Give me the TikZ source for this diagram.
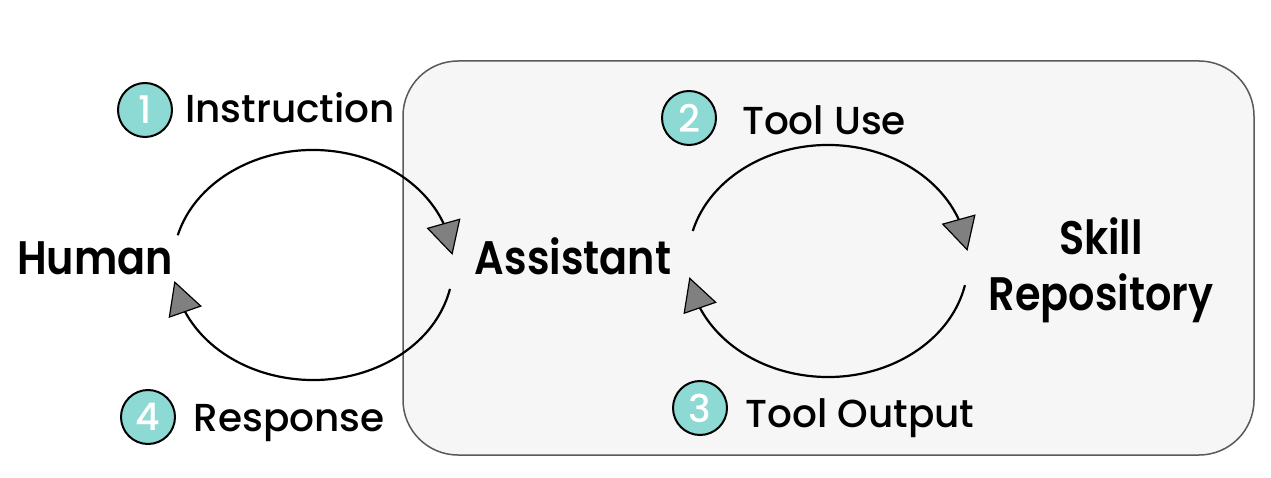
\documentclass[tikz,border=0pt]{standalone}
\usepackage{fontspec}
\setmainfont{Poppins}
\newfontfamily\actorfont{Poppins SemiBold}[FakeStretch=0.88]
\newfontfamily\labelfont{Poppins Medium}
\usetikzlibrary{arrows.meta,bending,calc}
\definecolor{teal}{HTML}{8DD9D3}
\definecolor{panel}{HTML}{F6F6F6}
\definecolor{tipgray}{HTML}{808080}
\tikzset{
  actor/.style={font=\actorfont\fontsize{47}{56}\selectfont, align=center, inner sep=0pt},
  lbl/.style={font=\labelfont\fontsize{39}{48}\selectfont, inner sep=0pt, anchor=base},
  badge/.style={circle, draw=black, line width=2pt, fill=teal, minimum size=54pt, inner sep=0pt,
    text=white, font=\labelfont\fontsize{38}{40}\selectfont},
  flow/.style={line width=2.2pt, -{Triangle[length=33pt,width=35pt,fill=tipgray,line width=1.2pt]}},
}
\begin{document}
\begin{tikzpicture}[x=1pt,y=1pt]
\useasboundingbox (0,0) rectangle (1271,477);
% panel behind the assistant and the repository
\draw[draw=black!65, line width=1.5pt, fill=panel, rounded corners=55pt] (403,22) rectangle (1254,416);

% actors
\node[actor, anchor=base] (human) at (95,202) {Human};
\node[actor, anchor=base] (assistant) at (573,202) {Assistant};
\node[actor] (skill) at (1101,207) {Skill\\Repository};

% ellipse centres of the two loops
\coordinate (lc) at (313,212);
\coordinate (rc) at (828,216);
\coordinate (a1) at ($(lc)+(165:140pt and 115pt)$);
\coordinate (a4) at ($(lc)+(-12:140pt and 115pt)$);
\coordinate (a2) at ($(rc)+(165:140pt and 116pt)$);
\coordinate (a3) at ($(rc)+(-12:140pt and 116pt)$);

\draw[flow] (a1) arc[start angle=165, end angle=5, x radius=140pt, y radius=115pt];
\draw[flow] (a4) arc[start angle=-12, end angle=-172, x radius=140pt, y radius=115pt];
\draw[flow] (a2) arc[start angle=165, end angle=5, x radius=140pt, y radius=116pt];
\draw[flow] (a3) arc[start angle=-12, end angle=-172, x radius=140pt, y radius=116pt];

% step labels
\node[badge] (b1) at (145,367) {1};
\node[lbl] (l1) at (290,354) {Instruction};
\node[badge] (b2) at (689,359) {2};
\node[lbl] (l2) at (824,342) {Tool Use};
\node[badge] (b3) at (700,69) {3};
\node[lbl] (l3) at (860,50) {Tool Output};
\node[badge] (b4) at (148,60) {4};
\node[lbl] (l4) at (289,46) {Response};
\end{tikzpicture}
\end{document}
